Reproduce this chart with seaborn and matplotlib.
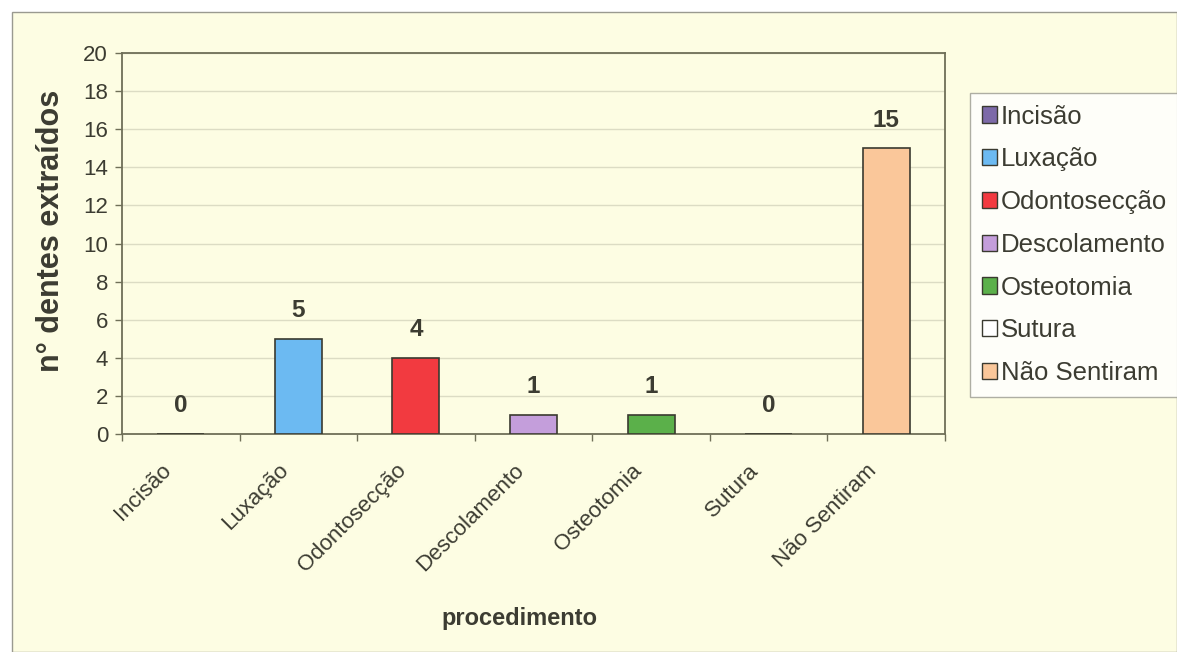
import matplotlib
matplotlib.use("Agg")
import matplotlib.pyplot as plt
import matplotlib.patches as mpatches
from matplotlib.ticker import MultipleLocator, FixedLocator
from matplotlib.transforms import ScaledTranslation
import seaborn as sns
import pandas as pd

# Data
procedimentos = ["Incisão", "Luxação", "Odontosecção", "Descolamento",
                 "Osteotomia", "Sutura", "Não Sentiram"]
dentes = [0, 5, 4, 1, 1, 0, 15]
cores = ["#7d6aa8", "#6cbaf2", "#f23a40", "#c49edb", "#5bb04a", "#ffffff", "#fac79a"]

sns.set_theme(style="white")
plt.rcParams["font.family"] = ["Liberation Sans", "DejaVu Sans"]

fundo = "#fdfde3"
texto = "#3c3c32"
linha = "#6f6f58"

fig = plt.figure(figsize=(11.77, 6.52), dpi=100)
fig.patch.set_facecolor("white")
W, H = 1177, 652
# chart area panel behind everything
fig.patches.append(mpatches.Rectangle((12 / W, 0), 1 - 12 / W, 1 - 12 / H,
                                      transform=fig.transFigure, facecolor=fundo,
                                      edgecolor="#9a9a90", linewidth=1.0, zorder=-10))

ax = fig.add_axes([122 / W, 1 - 434 / H, (945 - 122) / W, (434 - 53) / H])
ax.set_facecolor(fundo)

df = pd.DataFrame({"procedimento": procedimentos, "dentes": dentes})
sns.barplot(data=df, x="procedimento", y="dentes", hue="procedimento",
            palette=cores, saturation=1, dodge=False, width=0.4, order=procedimentos,
            hue_order=procedimentos, edgecolor="#3a3a30", linewidth=1.2,
            legend=False, ax=ax, zorder=3)

for cont in ax.containers:
    ax.bar_label(cont, fmt="%d", padding=12, fontsize=17.5, fontweight="bold",
                 color=texto)

ax.set_ylim(0, 20)
ax.set_xlim(-0.5, len(procedimentos) - 0.5)
ax.yaxis.set_major_locator(MultipleLocator(2))
ax.grid(axis="y", color="#dcdcc4", linewidth=1.0, zorder=0)
ax.set_axisbelow(True)

for s in ax.spines.values():
    s.set_color(linha)
    s.set_linewidth(1.3)
    s.set_visible(True)

ax.tick_params(axis="y", which="major", left=True, length=5, width=1, color=linha,
               labelsize=16, labelcolor=texto, pad=5)
ax.tick_params(axis="x", which="major", length=0, labelsize=16, labelcolor=texto, pad=24)
ax.xaxis.set_minor_locator(FixedLocator([i + 0.5 for i in range(-1, len(procedimentos))]))
ax.tick_params(axis="x", which="minor", bottom=True, length=5, width=1, color=linha)
shift = ScaledTranslation(-13 / 100, 0, fig.dpi_scale_trans)
for lbl in ax.get_xticklabels():
    lbl.set_rotation(45)
    lbl.set_ha("right")
    lbl.set_va("center")
    lbl.set_rotation_mode("anchor")
    lbl.set_transform(lbl.get_transform() + shift)

ax.set_xlabel("procedimento", fontsize=17, fontweight="bold", color=texto)
ax.xaxis.set_label_coords(0.483, -0.455)
ax.set_ylabel("n° dentes extraídos", fontsize=22, fontweight="bold", color=texto)
ax.yaxis.set_label_coords(-0.068, 0.533)

handles = [mpatches.Patch(facecolor=c, edgecolor="#3a3a30", linewidth=1.0) for c in cores]
leg = fig.legend(handles, procedimentos, loc="upper left",
                 bbox_to_anchor=(970 / W, 1 - 93 / H), frameon=True, fancybox=False,
                 fontsize=18.5, handlelength=0.6, handleheight=0.6, handletextpad=0.15,
                 labelspacing=0.73, borderpad=0.45, borderaxespad=0)
leg.get_frame().set_facecolor("white")
leg.get_frame().set_edgecolor("#9a9a90")
leg.get_frame().set_linewidth(1.0)
for t in leg.get_texts():
    t.set_color(texto)

fig.savefig("out.png", dpi=100, facecolor=fig.get_facecolor())
